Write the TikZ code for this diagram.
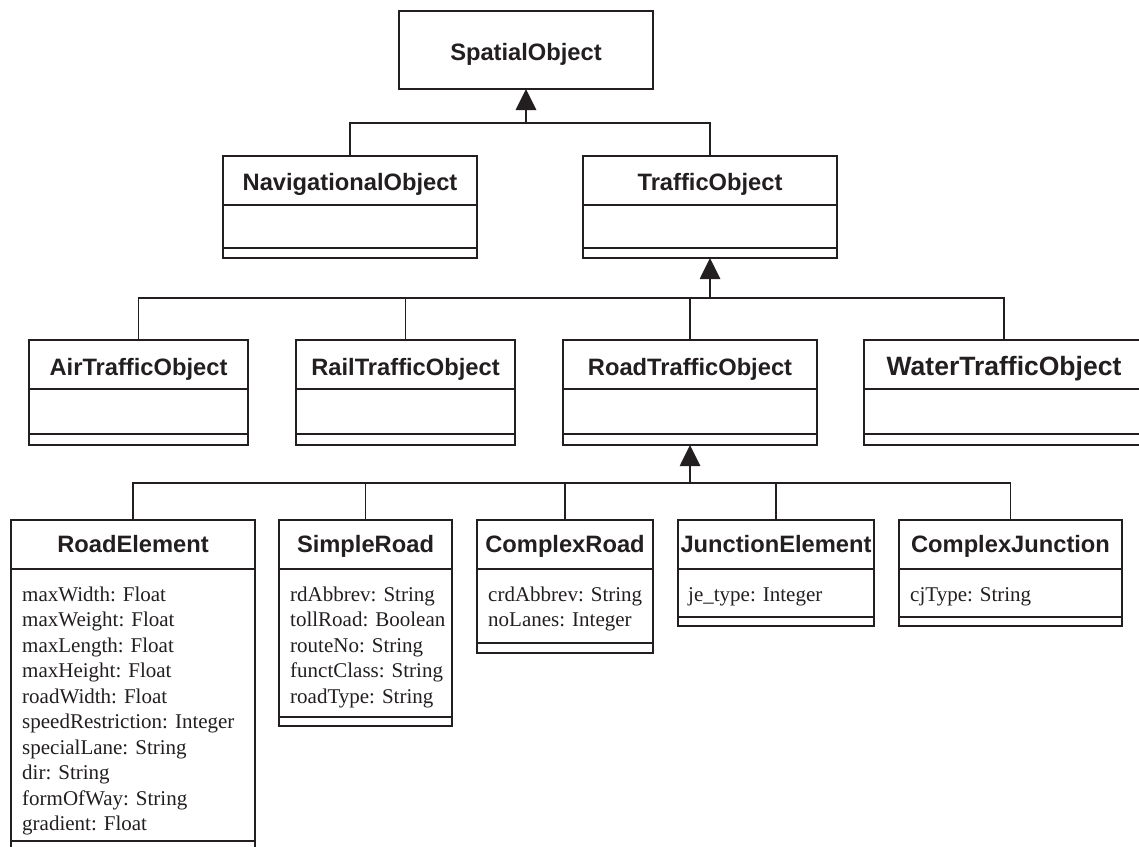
\documentclass[tikz,border=0pt]{standalone}
\usepackage{fontspec}
\setmainfont{Liberation Serif}
\newfontfamily\headfont{Liberation Sans}
\usetikzlibrary{arrows.meta}
\definecolor{ink}{RGB}{35,31,32}

\tikzset{
  umlbox/.style={draw=ink, line width=2pt, inner sep=0pt, outer sep=0pt,
                 anchor=north west, fill=white},
  divider/.style={draw=ink, line width=2.4pt},
  classtitle/.style={anchor=base, inner sep=0pt, text=ink,
                     font=\headfont\bfseries\fontsize{23.7}{28}\selectfont},
  bigtitle/.style={classtitle, font=\headfont\bfseries\fontsize{26.5}{31}\selectfont},
  attrline/.style={anchor=base west, inner sep=0pt, text=ink,
                   font=\fontsize{21}{25.5}\selectfont},
  branch/.style={draw=ink, line width=1.8pt},
  stem/.style={draw=ink, line width=2.8pt, -{Triangle[length=21pt,width=20pt]}},
}

% class box: name, left, top, width, height, gap of the empty operations row
\newcommand\umlclass[6]{%
  \node[umlbox, minimum width=#4pt, minimum height=#5pt] (#1) at (#2,#3) {};
  \draw[divider] ([yshift=-49pt]#1.north west) -- ([yshift=-49pt]#1.north east);
  \draw[divider] ([yshift=#6pt]#1.south west) -- ([yshift=#6pt]#1.south east);
}

\begin{document}
\begin{tikzpicture}[x=1pt,y=-1pt]
\useasboundingbox (0,0) rectangle (1139,846);
\clip (0,0) rectangle (1139,846);

% root
\node[umlbox, minimum width=254pt, minimum height=78pt] (spatial) at (399,11) {};
\node[classtitle] (spatial-t) at (526,60) {SpatialObject};

% second level
\umlclass{nav}{223}{156}{254}{102}{10}
\umlclass{traffic}{583}{156}{254}{102}{10}
\node[classtitle] (nav-t) at (350,190.5) {NavigationalObject};
\node[classtitle] (traffic-t) at (710,190.5) {TrafficObject};

% third level
\umlclass{air}{29}{340}{219}{105}{11}
\umlclass{rail}{296}{340}{219}{105}{11}
\umlclass{road}{563}{340}{254}{105}{11}
\umlclass{water}{864}{340}{280}{105}{11}
\node[classtitle] (air-t) at (138.5,375) {AirTrafficObject};
\node[classtitle] (rail-t) at (405.5,375) {RailTrafficObject};
\node[classtitle] (road-t) at (690,375) {RoadTrafficObject};
\node[bigtitle] (water-t) at (1004,375) {WaterTrafficObject};

% fourth level
\umlclass{roadel}{11}{520}{244}{332}{11}
\umlclass{simple}{279}{520}{173}{206}{9}
\umlclass{complex}{477}{520}{176}{133}{10}
\umlclass{junction}{678}{520}{196}{106}{9}
\umlclass{cjunct}{899}{520}{223}{106}{9}
\node[classtitle] (roadel-t) at (133,552) {RoadElement};
\node[classtitle] (simple-t) at (365.5,552) {SimpleRoad};
\node[classtitle] (complex-t) at (565,552) {ComplexRoad};
\node[classtitle] (junction-t) at (776,552) {JunctionElement};
\node[classtitle] (cjunct-t) at (1010.5,552) {ComplexJunction};

% attributes
\foreach \txt [count=\i from 0] in {maxWidth: Float, maxWeight: Float,
    maxLength: Float, maxHeight: Float, roadWidth: Float,
    speedRestriction: Integer, specialLane: String, dir: String,
    formOfWay: String, gradient: Float}
  \node[attrline] (roadel-a\i) at (22,{601+25.5*\i}) {\txt};
\foreach \txt [count=\i from 0] in {rdAbbrev: String, tollRoad: Boolean,
    routeNo: String, functClass: String, roadType: String}
  \node[attrline] (simple-a\i) at (290,{601+25.5*\i}) {\txt};
\foreach \txt [count=\i from 0] in {crdAbbrev: String, noLanes: Integer}
  \node[attrline] (complex-a\i) at (488,{601+25.5*\i}) {\txt};
\node[attrline] (junction-a0) at (688,601) {je\_type: Integer};
\node[attrline] (cjunct-a0) at (910,601) {cjType: String};

% generalisation: SpatialObject
\coordinate (j1) at (526,123);
\draw[branch] (nav.north) |- (j1) -| (traffic.north);
\draw[stem] (j1) -- (spatial.south);

% generalisation: TrafficObject
\coordinate (j2) at (710,298);
\draw[branch] (air.north) |- (j2) -| (water.north);
\draw[branch] (rail.north) -- (rail.north |- j2);
\draw[branch] (road.north) -- (road.north |- j2);
\draw[stem] (j2) -- (traffic.south);

% generalisation: RoadTrafficObject
\coordinate (j3) at (690,483);
\draw[branch] (roadel.north) |- (j3) -| (cjunct.north);
\draw[branch] (simple.north) -- (simple.north |- j3);
\draw[branch] (complex.north) -- (complex.north |- j3);
\draw[branch] (junction.north) -- (junction.north |- j3);
\draw[stem] (j3) -- (road.south);
\end{tikzpicture}
\end{document}
